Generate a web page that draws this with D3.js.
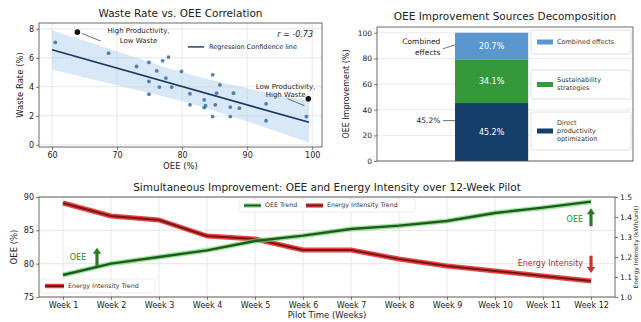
<!DOCTYPE html>
<html>
<head>
<meta charset="utf-8">
<script src="https://cdn.jsdelivr.net/npm/d3@7"></script>
<style>
  body { margin: 0; background: #fff; }
  svg { font-family: "DejaVu Sans", sans-serif; }
</style>
</head>
<body>
<svg id="chart" width="641" height="322"></svg>
<script>
// ---- scatter: waste rate vs OEE
const scatterOee   = [60.5, 68.7, 73.0, 74.9, 74.9, 74.9, 76.1, 77.0, 77.9, 77.5, 76.5, 78.4, 79.9, 81.2, 81.2,
                      83.4, 83.4, 83.6, 84.7, 84.7, 85.1, 85.3, 85.8, 87.4, 87.4, 87.9, 88.8, 92.9, 92.9, 99.1];
const scatterWaste = [7.06, 6.32, 5.40, 5.68, 4.37, 3.49, 5.10, 5.79, 6.05, 4.60, 3.98, 3.98, 5.06, 2.76, 3.52,
                      3.10, 2.57, 2.70, 4.83, 1.95, 2.76, 3.56, 4.14, 2.60, 1.95, 3.56, 2.53, 2.83, 1.66, 1.95];
const highlightOee   = [63.9, 99.4];
const highlightWaste = [7.77, 3.17];
const regOee   = [60, 99.5];
const regWaste = [6.55, 1.55];
const bandOee   = [60, 70, 80, 90, 99.5];
const bandUpper = [7.9, 6.45, 5.0, 3.9, 3.05];
const bandLower = [5.2, 4.1, 3.0, 1.6, 0.15];
const correlation = -0.73;

// ---- stacked bar: improvement sources
const sources = ["Direct productivity optimization", "Sustainability strategies", "Combined effects"];
const sourceLegend = [["Direct", "productivity", "optimization"], ["Sustainability", "strategies"], ["Combined effects"]];
const shares = [45.2, 34.1, 20.7];
const sourceColors = ["#153e6b", "#33993a", "#5b97cf"];

// ---- 12 week pilot
const weekLabels = ["Week 1", "Week 2", "Week 3", "Week 4", "Week 5", "Week 6",
                    "Week 7", "Week 8", "Week 9", "Week 10", "Week 11", "Week 12"];
const oeeTrend    = [78.3, 80.0, 81.0, 82.0, 83.4, 84.2, 85.2, 85.7, 86.4, 87.6, 88.4, 89.3];
const energyTrend = [1.47, 1.405, 1.385, 1.305, 1.29, 1.235, 1.235, 1.19, 1.155, 1.13, 1.105, 1.08];

const svg = d3.select("#chart");
const frameColor = "#444", gridColor = "#dedede", textColor = "#222";

function styleAxis(g, size) {
  g.select(".domain").remove();
  g.selectAll(".tick line").attr("stroke", frameColor).attr("stroke-width", 0.7);
  g.selectAll(".tick text").attr("fill", textColor).attr("font-size", size || 8)
    .attr("font-family", "DejaVu Sans");
}

function frame(l, t, r, b) {
  svg.append("rect")
    .attr("x", l).attr("y", t).attr("width", r - l).attr("height", b - t)
    .attr("fill", "none").attr("stroke", frameColor).attr("stroke-width", 0.8);
}

function label(x, y, text, opts) {
  opts = opts || {};
  const t = svg.append("text")
    .attr("x", x).attr("y", y)
    .attr("font-size", opts.size || 9)
    .attr("fill", opts.color || textColor)
    .attr("text-anchor", opts.anchor || "middle")
    .attr("dominant-baseline", "middle")
    .text(text);
  if (opts.rotate) t.attr("transform", `rotate(${opts.rotate},${x},${y})`);
  if (opts.style) t.attr("font-style", opts.style);
  return t;
}

// fat arrow from (x, y1) to (x, y2)
function fatArrow(x, y1, y2, color) {
  const dir = y2 < y1 ? -1 : 1, head = 6, sw = 1.6, hw = 4.2;
  const yh = y2 - dir * head;
  const p = d3.path();
  p.moveTo(x - sw, y1); p.lineTo(x - sw, yh); p.lineTo(x - hw, yh); p.lineTo(x, y2);
  p.lineTo(x + hw, yh); p.lineTo(x + sw, yh); p.lineTo(x + sw, y1); p.closePath();
  svg.append("path").attr("d", p.toString()).attr("fill", color);
}

// ================= Panel 1: scatter =================
{
  const L = 39, R = 322, T = 23, B = 147;
  const x = d3.scaleLinear().domain([58, 101.5]).range([L, R]);
  const y = d3.scaleLinear().domain([-0.15, 8.4]).range([B, T]);
  const xt = [60, 70, 80, 90, 100], yt = [0, 2, 4, 6, 8];

  svg.append("g").selectAll("line").data(xt).enter().append("line")
    .attr("x1", d => x(d)).attr("x2", d => x(d)).attr("y1", T).attr("y2", B)
    .attr("stroke", gridColor).attr("stroke-width", 0.7);
  svg.append("g").selectAll("line").data(yt).enter().append("line")
    .attr("y1", d => y(d)).attr("y2", d => y(d)).attr("x1", L).attr("x2", R)
    .attr("stroke", gridColor).attr("stroke-width", 0.7);

  // band
  const area = d3.area()
    .x((d, i) => x(bandOee[i]))
    .y0((d, i) => y(bandLower[i]))
    .y1((d, i) => y(bandUpper[i]))
    .curve(d3.curveMonotoneX);
  svg.append("path").datum(bandOee).attr("d", area)
    .attr("fill", "#a9cdea").attr("opacity", 0.45);

  svg.append("path").datum(regOee)
    .attr("d", d3.line().x((d, i) => x(regOee[i])).y((d, i) => y(regWaste[i])))
    .attr("stroke", "#17375e").attr("stroke-width", 1.6).attr("fill", "none");

  svg.append("g").selectAll("circle").data(scatterOee).enter().append("circle")
    .attr("cx", d => x(d)).attr("cy", (d, i) => y(scatterWaste[i]))
    .attr("r", 1.9).attr("fill", "#3f73a6").attr("opacity", 0.9);
  svg.append("g").selectAll("circle").data(highlightOee).enter().append("circle")
    .attr("cx", d => x(d)).attr("cy", (d, i) => y(highlightWaste[i]))
    .attr("r", 2.8).attr("fill", "#111");

  // annotations
  label(x(73.3), y(7.85), "High Productivity,", { size: 7 });
  label(x(73.3), y(7.15), "Low Waste", { size: 7 });
  svg.append("line")
    .attr("x1", x(67.5)).attr("y1", y(7.15)).attr("x2", x(64.6)).attr("y2", y(7.68))
    .attr("stroke", "#333").attr("stroke-width", 0.7);
  label(x(95.9), y(4.0), "Low Productivity,", { size: 7 });
  label(x(95.9), y(3.45), "High Waste", { size: 7 });
  svg.append("line")
    .attr("x1", x(96.2)).attr("y1", y(3.18)).attr("x2", x(98.8)).attr("y2", y(2.7))
    .attr("stroke", "#333").attr("stroke-width", 0.7);

  // r and legend
  label(R - 9, y(7.6), "r = " + correlation.toFixed(2), { size: 8, anchor: "end", style: "italic" });
  svg.append("line").attr("x1", R - 134).attr("x2", R - 118).attr("y1", y(6.75)).attr("y2", y(6.75))
    .attr("stroke", "#17375e").attr("stroke-width", 1.4);
  label(R - 113, y(6.75), "Regression Confidence line", { size: 6.5, anchor: "start" });

  frame(L, T, R, B);
  svg.append("g").attr("transform", `translate(0,${B})`)
    .call(d3.axisBottom(x).tickValues(xt).tickSize(3).tickPadding(2)).call(g => styleAxis(g));
  svg.append("g").attr("transform", `translate(${L},0)`)
    .call(d3.axisLeft(y).tickValues(yt).tickSize(3).tickPadding(2)).call(g => styleAxis(g));

  label((L + R) / 2, 14, "Waste Rate vs. OEE Correlation", { size: 10.5 });
  label((L + R) / 2, 166, "OEE (%)", { size: 8.5 });
  label(20, (T + B) / 2, "Waste Rate (%)", { size: 8.5, rotate: -90 });
}

// ================= Panel 2: stacked bar =================
{
  const L = 377, R = 633, T = 27, B = 161;
  const x = d3.scaleLinear().domain([-0.94, 1.16]).range([L, R]);
  const y = d3.scaleLinear().domain([0, 104.5]).range([B, T]);
  const yt = [0, 20, 40, 60, 80, 100];
  const barW = 0.6;

  svg.append("g").selectAll("line").data(yt).enter().append("line")
    .attr("y1", d => y(d)).attr("y2", d => y(d)).attr("x1", L).attr("x2", R)
    .attr("stroke", gridColor).attr("stroke-width", 0.7);

  const stacked = [];
  let acc = 0;
  shares.forEach((s, i) => { stacked.push({ name: sources[i], y0: acc, y1: acc + s, v: s, c: sourceColors[i] }); acc += s; });

  svg.append("g").selectAll("rect").data(stacked).enter().append("rect")
    .attr("x", x(-barW / 2)).attr("width", x(barW / 2) - x(-barW / 2))
    .attr("y", d => y(d.y1)).attr("height", d => y(d.y0) - y(d.y1))
    .attr("fill", d => d.c);
  stacked.forEach(d => {
    label(x(0), y((d.y0 + d.y1) / 2), d.v.toFixed(1) + "%", { size: 8, color: "#fff" });
  });

  // annotations left of bar
  label(x(-0.42), y(92.5), "Combined", { size: 7.5, anchor: "end" });
  label(x(-0.42), y(84.5), "effects", { size: 7.5, anchor: "end" });
  svg.append("line").attr("x1", x(-0.4)).attr("y1", y(87.5)).attr("x2", x(-0.3)).attr("y2", y(90.5))
    .attr("stroke", "#333").attr("stroke-width", 0.7);
  label(x(-0.42), y(31.5), shares[0].toFixed(1) + "%", { size: 7.5, anchor: "end" });
  svg.append("line").attr("x1", x(-0.4)).attr("y1", y(31.5)).attr("x2", x(-0.3)).attr("y2", y(31.5))
    .attr("stroke", "#333").attr("stroke-width", 0.7);

  // three separate legend boxes
  const boxes = [{ top: 112, h: 38 }, { top: 70, h: 29 }, { top: 30, h: 24 }];
  boxes.forEach((b, i) => {
    svg.append("rect").attr("x", 531).attr("y", b.top).attr("width", 100).attr("height", b.h)
      .attr("rx", 2).attr("fill", "#fff").attr("stroke", "#d4d4d4").attr("stroke-width", 0.7);
    const lines = sourceLegend[i];
    const cy = b.top + b.h / 2;
    svg.append("rect").attr("x", 537).attr("y", cy - 2.5).attr("width", 16).attr("height", 5)
      .attr("fill", sourceColors[i]);
    lines.forEach((t, j) => {
      label(557, cy + (j - (lines.length - 1) / 2) * 7.8, t, { size: 6.5, anchor: "start", color: "#333" });
    });
  });

  frame(L, T, R, B);
  svg.append("g").attr("transform", `translate(${L},0)`)
    .call(d3.axisLeft(y).tickValues(yt).tickSize(3).tickPadding(2)).call(g => styleAxis(g, 7.5));

  label((L + R) / 2, 17, "OEE Improvement Sources Decomposition", { size: 10.5 });
  label(346, (T + B) / 2, "OEE Improvement (%)", { size: 8, rotate: -90 });
}

// ================= Panel 3: 12 week pilot =================
{
  const L = 39, R = 615, T = 197, B = 297;
  const x = d3.scalePoint().domain(weekLabels).range([L, R]).padding(0.5);
  const y = d3.scaleLinear().domain([75, 90]).range([B, T]);
  const y2 = d3.scaleLinear().domain([1.0, 1.5]).range([B, T]);
  const yt = [75, 80, 85, 90], y2t = [1.0, 1.1, 1.2, 1.3, 1.4, 1.5];

  svg.append("g").selectAll("line").data(weekLabels).enter().append("line")
    .attr("x1", d => x(d)).attr("x2", d => x(d)).attr("y1", T).attr("y2", B)
    .attr("stroke", gridColor).attr("stroke-width", 0.7);
  svg.append("g").selectAll("line").data(yt).enter().append("line")
    .attr("y1", d => y(d)).attr("y2", d => y(d)).attr("x1", L).attr("x2", R)
    .attr("stroke", "#ead6d6").attr("stroke-width", 0.7);

  const eLine = d3.line().x((d, i) => x(weekLabels[i])).y(d => y2(d));
  const oLine = d3.line().x((d, i) => x(weekLabels[i])).y(d => y(d));

  svg.append("path").datum(energyTrend).attr("d", eLine).attr("fill", "none")
    .attr("stroke", "#e02424").attr("stroke-width", 5).attr("opacity", 0.85).attr("stroke-linejoin", "round");
  svg.append("path").datum(energyTrend).attr("d", eLine).attr("fill", "none")
    .attr("stroke", "#7a1414").attr("stroke-width", 2).attr("stroke-linejoin", "round");
  svg.append("path").datum(oeeTrend).attr("d", oLine).attr("fill", "none")
    .attr("stroke", "#72d872").attr("stroke-width", 5).attr("opacity", 0.7).attr("stroke-linejoin", "round");
  svg.append("path").datum(oeeTrend).attr("d", oLine).attr("fill", "none")
    .attr("stroke", "#1e5a1e").attr("stroke-width", 2.4).attr("stroke-linejoin", "round");

  // annotations
  label(x("Week 1") + 15, y(80.9), "OEE", { size: 8, color: "#2f8a2f" });
  fatArrow(x("Week 1") + 34, y(79.7), y(82.4), "#2a7a2a");
  label(x("Week 12") - 8, y(86.6), "OEE", { size: 8, color: "#2f8a2f", anchor: "end" });
  fatArrow(x("Week 12"), y(85.6), y(88.3), "#2a7a2a");
  label(x("Week 12") - 8, y(80.0), "Energy Intensity", { size: 8, color: "#a83232", anchor: "end" });
  fatArrow(x("Week 12"), y(81.2), y(78.6), "#c0392b");

  // legends
  svg.append("rect").attr("x", 239).attr("y", 199).attr("width", 176).attr("height", 13)
    .attr("rx", 2).attr("fill", "#fff").attr("fill-opacity", 0.8).attr("stroke", "#e0e0e0").attr("stroke-width", 0.6);
  [[244, "#72d872", "#1e5a1e", "OEE Trend"], [306, "#e02424", "#7a1414", "Energy Intensity Trend"]].forEach(d => {
    svg.append("line").attr("x1", d[0]).attr("x2", d[0] + 17).attr("y1", 205.5).attr("y2", 205.5)
      .attr("stroke", d[1]).attr("stroke-width", 4.5).attr("opacity", 0.75);
    svg.append("line").attr("x1", d[0]).attr("x2", d[0] + 17).attr("y1", 205.5).attr("y2", 205.5)
      .attr("stroke", d[2]).attr("stroke-width", 2);
    label(d[0] + 21, 205.5, d[3], { size: 6.3, anchor: "start", color: "#333" });
  });
  svg.append("rect").attr("x", 41).attr("y", 279).attr("width", 114).attr("height", 14)
    .attr("rx", 2).attr("fill", "#fff").attr("fill-opacity", 0.8).attr("stroke", "#e0e0e0").attr("stroke-width", 0.6);
  svg.append("line").attr("x1", 45).attr("x2", 64).attr("y1", 286).attr("y2", 286)
    .attr("stroke", "#e02424").attr("stroke-width", 4.5).attr("opacity", 0.85);
  svg.append("line").attr("x1", 45).attr("x2", 64).attr("y1", 286).attr("y2", 286)
    .attr("stroke", "#7a1414").attr("stroke-width", 2);
  label(68, 286, "Energy Intensity Trend", { size: 6.3, anchor: "start", color: "#333" });

  frame(L, T, R, B);
  svg.append("g").attr("transform", `translate(0,${B})`)
    .call(d3.axisBottom(x).tickSize(3).tickPadding(2)).call(g => styleAxis(g, 8));
  svg.append("g").attr("transform", `translate(${L},0)`)
    .call(d3.axisLeft(y).tickValues(yt).tickSize(3).tickPadding(2)).call(g => styleAxis(g, 8));
  svg.append("g").attr("transform", `translate(${R},0)`)
    .call(d3.axisRight(y2).tickValues(y2t).tickFormat(d3.format(".1f")).tickSize(3).tickPadding(2))
    .call(g => styleAxis(g, 7.5));

  label((L + R) / 2, 188, "Simultaneous Improvement: OEE and Energy Intensity over 12-Week Pilot", { size: 10.5 });
  label((L + R) / 2, 315, "Pilot Time (Weeks)", { size: 8.5 });
  label(14, (T + B) / 2, "OEE (%)", { size: 8.5, rotate: -90 });
  label(636.5, (T + B) / 2, "Energy Intensity (kWh/unit)", { size: 6, rotate: -90 });
}
</script>
</body>
</html>
